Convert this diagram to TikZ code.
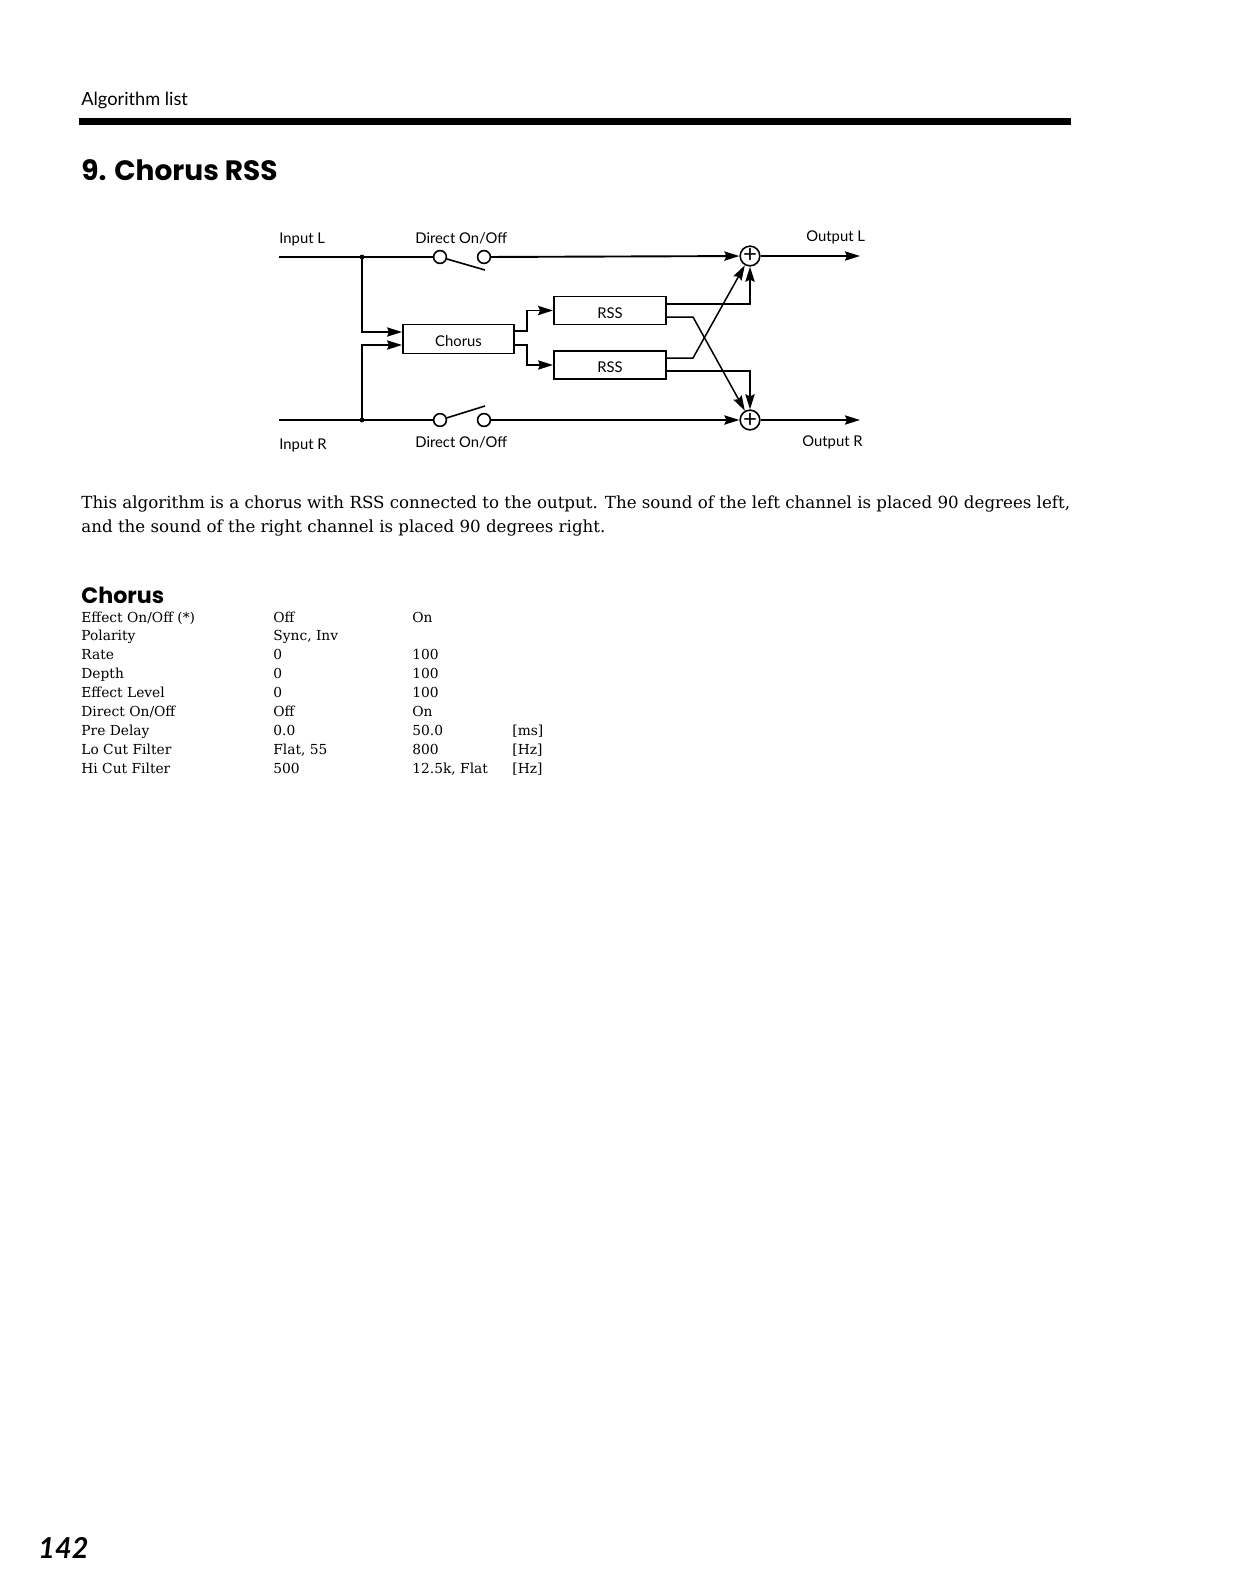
\documentclass[tikz,border=0pt]{standalone}
\usepackage{fontspec}
\setmainfont{DejaVu Serif}
\setsansfont{Lato}
\newfontfamily\headfont{Poppins}
\usetikzlibrary{arrows.meta}
\tikzset{
  wire/.style={line width=0.95pt},
  thinwire/.style={line width=0.75pt,-{Stealth[inset=1pt,length=7.5pt,width=4.6pt]}},
  tipwire/.style={line width=0.95pt,-{Stealth[inset=1pt,length=7.5pt,width=4.6pt]}},
  swnode/.style={circle,draw,line width=0.8pt,fill=white,inner sep=0pt,minimum size=6.4pt},
  sumnode/.style={circle,draw,line width=0.8pt,fill=white,inner sep=0pt,minimum size=8.6pt,font=\sffamily\fontsize{12}{12}\selectfont},
  fxbox/.style={rectangle,draw,line width=0.95pt,inner sep=0pt,text height=7.5pt,text depth=0pt,font=\sffamily\fontsize{7.4}{10}\selectfont},
  lab/.style={anchor=base west,inner sep=0pt,font=\sffamily\fontsize{7.4}{10}\selectfont},
  bodytxt/.style={anchor=base west,inner sep=0pt,font=\fontsize{8.33}{10}\selectfont},
  tabtxt/.style={anchor=base west,inner sep=0pt,font=\fontsize{6.9}{9}\selectfont}
}
\begin{document}
\begin{tikzpicture}[x=0.5pt,y=-0.5pt]
  \useasboundingbox (0,0) rectangle (1233,1590);
  % page head
  \node[lab,font=\sffamily\fontsize{9.1}{12}\selectfont] (headtxt) at (81,105) {Algorithm list};
  \fill (79,118) rectangle (1071,125);
  \node[lab,font=\headfont\bfseries\fontsize{14}{16}\selectfont] (title) at (81,180) {9. Chorus RSS};
  % blocks
  \node[fxbox,minimum width=55.5pt,minimum height=14.5pt] (chorus) at (458.5,339) {Chorus};
  \node[fxbox,minimum width=56pt,minimum height=14pt] (rssL) at (610,310.5) {RSS};
  \node[fxbox,minimum width=56pt,minimum height=14pt] (rssR) at (610,365) {RSS};
  \node[sumnode] (sumL) at (750,256) {+};
  \node[sumnode] (sumR) at (750,420) {+};
  \node[swnode] (swLa) at (440,257) {};
  \node[swnode] (swLb) at (484,257) {};
  \node[swnode] (swRa) at (440,420) {};
  \node[swnode] (swRb) at (484,420) {};
  % free ends of the wires
  \coordinate (inL) at (279,257);
  \coordinate (inR) at (279,420);
  \coordinate (outL) at (860,256);
  \coordinate (outR) at (860,420);
  \coordinate (joinL) at (362,257);
  \coordinate (joinR) at (362,420);
  \coordinate (bladeL) at (485,270);
  \coordinate (bladeR) at (485,406);
  \fill (joinL) circle (1.2pt);
  \fill (joinR) circle (1.2pt);
  % direct paths
  \draw[wire] (inL) -- (swLa);
  \draw[wire] (inR) -- (swRa);
  \draw[line width=0.8pt] (swLa) -- (bladeL);
  \draw[line width=0.8pt] (swRa) -- (bladeR);
  \draw[tipwire] (swLb) -- (sumL);
  \draw[tipwire] (swRb) -- (sumR);
  \draw[tipwire] (sumL) -- (outL);
  \draw[tipwire] (sumR) -- (outR);
  % into and out of the chorus
  \draw[tipwire] (joinL) |- (chorus.west |- 0,332);
  \draw[tipwire] (joinR) |- (chorus.west |- 0,345);
  \draw[tipwire] (chorus.east |- 0,331) -| (527,321) |- (rssL.west);
  \draw[tipwire] (chorus.east |- 0,345) -| (527,355) |- (rssR.west);
  % out of the rss blocks
  \draw[tipwire] (rssL.east |- 0,304) -| (sumL);
  \draw[tipwire] (rssR.east |- 0,371) -| (sumR);
  \draw[thinwire] (rssL.east |- 0,317) -- (693,317) -- (sumR);
  \draw[thinwire] (rssR.east |- 0,358) -- (693,358) -- (sumL);
  % labels of the diagram
  \node[lab] (inLtxt) at (279,243) {Input L};
  \node[lab] (inRtxt) at (279,449) {Input R};
  \node[lab] (dirLtxt) at (415,243) {Direct On/Off};
  \node[lab] (dirRtxt) at (415,447) {Direct On/Off};
  \node[lab] (outLtxt) at (806,241) {Output L};
  \node[lab] (outRtxt) at (802,446) {Output R};
  % text
  \node[bodytxt] (bodyA) at (81,508) {This algorithm is a chorus with RSS connected to the output. The sound of the left channel is placed 90 degrees left,};
  \node[bodytxt] (bodyB) at (81,532) {and the sound of the right channel is placed 90 degrees right.};
  \node[lab,font=\headfont\bfseries\fontsize{11.1}{14}\selectfont] (tabhead) at (81,603) {Chorus};
  % parameter table
  \foreach \i/\pname/\lo/\hi/\unit in {
    0/{Effect On/Off (*)}/Off/On/{},
    1/Polarity/{Sync, Inv}/{}/{},
    2/Rate/0/100/{},
    3/Depth/0/100/{},
    4/Effect Level/0/100/{},
    5/{Direct On/Off}/Off/On/{},
    6/Pre Delay/0.0/50.0/{[ms]},
    7/Lo Cut Filter/{Flat, 55}/800/{[Hz]},
    8/Hi Cut Filter/500/{12.5k, Flat}/{[Hz]}}{
    \node[tabtxt] (name\i) at (81,622+18.9*\i) {\pname};
    \node[tabtxt] (lo\i) at (273,622+18.9*\i) {\lo};
    \node[tabtxt] (hi\i) at (412,622+18.9*\i) {\hi};
    \node[tabtxt] (unit\i) at (512,622+18.9*\i) {\unit};
  }
  % page number
  \node[lab,font=\sffamily\itshape\bfseries\fontsize{14.4}{16}\selectfont] (pagenum) at (38,1558) {142};
\end{tikzpicture}
\end{document}
